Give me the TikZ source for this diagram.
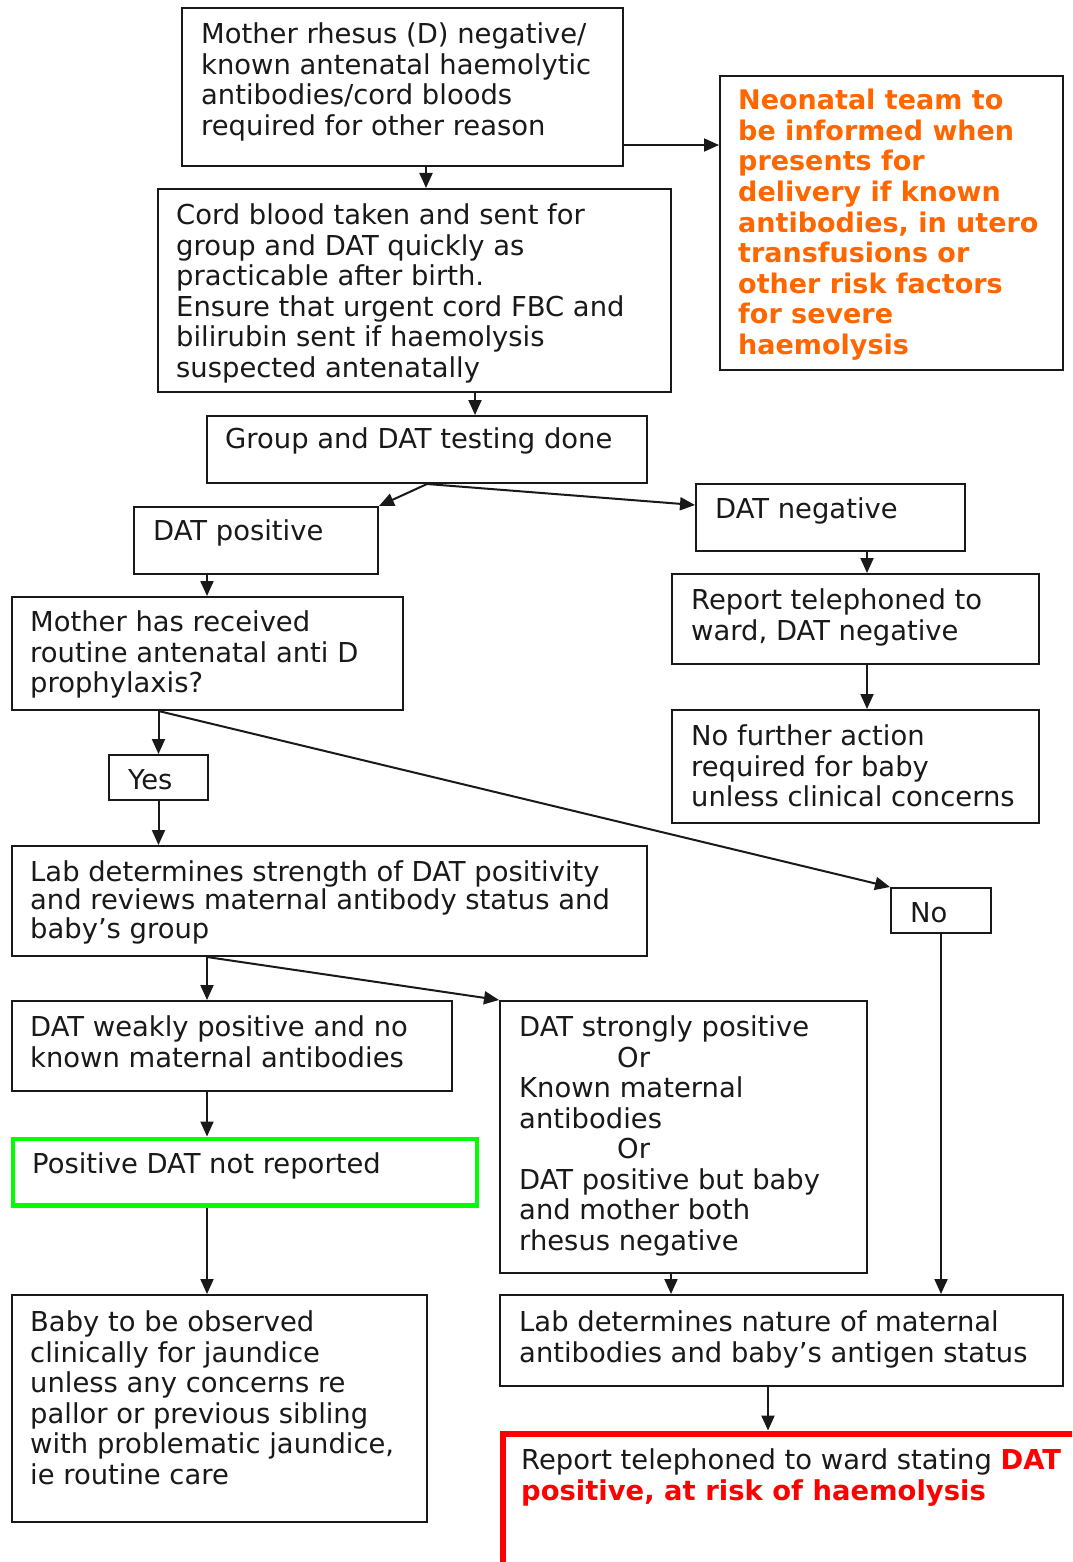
\documentclass[tikz,border=0pt]{standalone}
\usepackage{fontspec}
\setmainfont{DejaVu Sans}
\usepackage{xcolor}
\usetikzlibrary{arrows.meta,calc}
\definecolor{flink}{RGB}{25,25,25}
\definecolor{florange}{RGB}{255,102,0}
\definecolor{flgreen}{RGB}{0,255,0}
\definecolor{flred}{RGB}{255,0,0}
\tikzset{
  frame/.style={draw=flink, line width=2pt, inner sep=0pt, anchor=north west},
  okframe/.style={frame, draw=flgreen, line width=4.5pt},
  riskframe/.style={frame, draw=flred, line width=6pt},
  txt/.style={anchor=north west, inner sep=0pt, align=left, text=flink,
    font=\fontsize{27.4}{30.5}\selectfont},
  warn/.style={txt, text=florange, font=\fontsize{27}{30.6}\selectfont\bfseries},
  arr/.style={-{Triangle[length=15pt,width=13pt]}, draw=flink, line width=2pt}
}
\begin{document}
\begin{tikzpicture}[x=1pt, y=-1pt]
  \useasboundingbox (0,0) rectangle (1072,1562);
  \clip (0,0) rectangle (1072,1562);
  \fill[white] (0,0) rectangle (1072,1562);
  % frames
  \node[frame, minimum width=441, minimum height=158] (start) at (181,7) {};
  \node[frame, minimum width=343, minimum height=294] (neo) at (719,75) {};
  \node[frame, minimum width=513, minimum height=203] (cord) at (157,188) {};
  \node[frame, minimum width=440, minimum height=67] (test) at (206,415) {};
  \node[frame, minimum width=244, minimum height=67] (dpos) at (133,506) {};
  \node[frame, minimum width=269, minimum height=67] (dneg) at (695,483) {};
  \node[frame, minimum width=367, minimum height=90] (repneg) at (671,573) {};
  \node[frame, minimum width=367, minimum height=113] (noact) at (671,709) {};
  \node[frame, minimum width=391, minimum height=113] (antid) at (11,596) {};
  \node[frame, minimum width=99, minimum height=45] (yes) at (108,754) {};
  \node[frame, minimum width=100, minimum height=45] (no) at (890,887) {};
  \node[frame, minimum width=635, minimum height=110] (strength) at (11,845) {};
  \node[frame, minimum width=440, minimum height=90] (weak) at (11,1000) {};
  \node[frame, minimum width=367, minimum height=272] (strong) at (499,1000) {};
  \node[okframe, minimum width=464, minimum height=66.5] (notrep) at (10.5,1136.5) {};
  \node[frame, minimum width=415, minimum height=227] (observe) at (11,1294) {};
  \node[frame, minimum width=563, minimum height=91] (nature) at (499,1294) {};
  \node[riskframe, minimum width=700, minimum height=300] (risk) at (499.5,1430.5) {};
  % texts
  \node[txt] (startt) at (201,22.5) {Mother rhesus (D) negative/\\known antenatal haemolytic\\antibodies/cord bloods\\required for other reason};
  \node[warn] (neot) at (738,89) {Neonatal team to\\be informed when\\presents for\\delivery if known\\antibodies, in utero\\transfusions or\\other risk factors\\for severe\\haemolysis};
  \node[txt] (cordt) at (176,203.5) {Cord blood taken and sent for\\group and DAT quickly as\\practicable after birth.\\Ensure that urgent cord FBC and\\bilirubin sent if haemolysis\\suspected antenatally};
  \node[txt] (testt) at (225,427.5) {Group and DAT testing done};
  \node[txt] (dpost) at (153,519) {DAT positive};
  \node[txt] (dnegt) at (715,497) {DAT negative};
  \node[txt] (repnegt) at (691,588.5) {Report telephoned to\\ward, DAT negative};
  \node[txt] (noactt) at (691,724.5) {No further action\\required for baby\\unless clinical concerns};
  \node[txt] (antidt) at (30,610.5) {Mother has received\\routine antenatal anti D\\prophylaxis?};
  \node[txt] (yest) at (128,769.5) {Yes};
  \node[txt] (not) at (910,902.5) {No};
  \node[txt, font=\fontsize{27.4}{28.4}\selectfont] (strengtht) at (30,860.5) {Lab determines strength of DAT positivity\\and reviews maternal antibody status and\\baby’s group};
  \node[txt] (weakt) at (30,1015.5) {DAT weakly positive and no\\known maternal antibodies};
  \node[txt] (strongt) at (519,1015.5) {DAT strongly positive\\\hspace*{98pt}Or\\Known maternal\\antibodies\\\hspace*{98pt}Or\\DAT positive but baby\\and mother both\\rhesus negative};
  \node[txt] (notrept) at (32,1152.5) {Positive DAT not reported};
  \node[txt] (observet) at (30,1310.5) {Baby to be observed\\clinically for jaundice\\unless any concerns re\\pallor or previous sibling\\with problematic jaundice,\\ie routine care};
  \node[txt] (naturet) at (519,1310.5) {Lab determines nature of maternal\\antibodies and baby’s antigen status};
  \node[txt] (riskt) at (521,1448.5) {Report telephoned to ward stating {\bfseries\color{flred}DAT}\\{\bfseries\color{flred}positive, at risk of haemolysis}};
  % connectors
  \draw[arr] ($(start.south east)+(0,-22)$) coordinate (s1) -- (s1 -| neo.west);
  \draw[arr] ($(start.south west)+(245,0)$) coordinate (s2) -- (s2 |- cord.north);
  \draw[arr] ($(cord.south west)+(318,0)$) coordinate (s3) -- (s3 |- test.north);
  \draw[arr] (test.south) -- (dpos.north east);
  \draw[arr] (test.south) -- ($(dneg.north west)+(0,22)$);
  \draw[arr] ($(dneg.south west)+(172,0)$) coordinate (s4) -- (s4 |- repneg.north);
  \draw[arr] ($(repneg.south west)+(196,0)$) coordinate (s5) -- (s5 |- noact.north);
  \draw[arr] ($(dpos.south west)+(74,0)$) coordinate (s6) -- (s6 |- antid.north);
  \draw[arr] (yes.north |- antid.south) coordinate (s7) -- (yes.north);
  \draw[arr] (yes.south) -- (yes.south |- strength.north);
  \draw[arr] (s7) -- (no.north west);
  \draw[arr] ($(strength.south west)+(196,0)$) coordinate (s8) -- (s8 |- weak.north);
  \draw[arr] (s8) -- (strong.north west);
  \draw[arr] (s8 |- weak.south) -- (s8 |- notrep.north);
  \draw[arr] (s8 |- notrep.south) -- (s8 |- observe.north);
  \draw[arr] ($(strong.south west)+(172,0)$) coordinate (s9) -- (s9 |- nature.north);
  \draw[arr] (no.south) -- (no.south |- nature.north);
  \draw[arr] ($(nature.south west)+(269,0)$) coordinate (s10) -- (s10 |- risk.north);
\end{tikzpicture}
\end{document}
